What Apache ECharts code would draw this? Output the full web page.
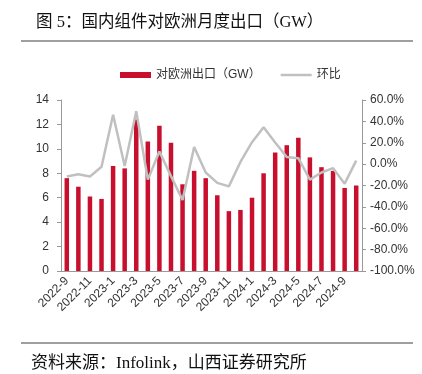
<!DOCTYPE html>
<html><head><meta charset="utf-8">
<script src="https://cdn.jsdelivr.net/npm/echarts@6/dist/echarts.min.js"></script>
<style>html,body{margin:0;padding:0;background:#fff}#c{width:422px;height:374px}</style>
</head><body><div id="c"></div>
<script>
var categories = ['2022-9','2022-10','2022-11','2022-12','2023-1','2023-2','2023-3','2023-4','2023-5','2023-6','2023-7','2023-8','2023-9','2023-10','2023-11','2023-12','2024-1','2024-2','2024-3','2024-4','2024-5','2024-6','2024-7','2024-8','2024-9','2024-10'];
var exportGW = [7.6,6.9,6.1,5.9,8.6,8.4,12.4,10.6,11.9,10.5,7.1,8.2,7.6,6.2,4.9,5.0,6.0,8.0,9.7,10.3,10.9,9.3,8.5,8.2,6.8,7.0];
var momPct = [-11.5,-9.4,-11.5,-2.5,46.2,-1.8,49.4,-14.5,11.9,-11.2,-33.5,16.0,-7.8,-17.5,-20.8,2.0,20.5,34.5,20.3,6.7,5.6,-14.5,-7.8,-3.8,-18.3,3.3];
var leftTicks = {min:0,max:14,interval:2};
var rightTicks = {min:-100,max:60,interval:20};

var chart = echarts.init(document.getElementById('c'));
var cjk = '"Liberation Serif","Noto Sans CJK SC",serif';
var sans = '"Liberation Sans","Noto Sans CJK SC",sans-serif';
chart.setOption({
  animation:false,
  title:{text:'图 5：国内组件对欧洲月度出口（GW）',left:31,top:9,textStyle:{fontFamily:cjk,fontSize:16.5,fontWeight:'normal',color:'#111'}},
  graphic:[
    {type:'line',shape:{x1:21,y1:41,x2:413,y2:41},style:{stroke:'#7f7f7f',lineWidth:1.5}},
    {type:'line',shape:{x1:21,y1:343,x2:413,y2:343},style:{stroke:'#7f7f7f',lineWidth:1.5}},
    {type:'text',left:31,top:355,style:{text:'资料来源：Infolink，山西证券研究所',font:'17px '+cjk,fill:'#111'}}
  ],
  legend:{left:115,top:64,itemGap:20,itemWidth:31,itemHeight:6,textStyle:{fontFamily:sans,fontSize:12,color:'#333'},
    data:[{name:'对欧洲出口（GW）',icon:'rect'},{name:'环比',icon:'path://M0,0H31V2.5H0Z'}]},
  grid:{left:61,right:60,top:100,bottom:103},
  xAxis:{type:'category',data:categories,
    axisLine:{lineStyle:{color:'#999'}},
    axisTick:{interval:0,length:4,lineStyle:{color:'#999'}},
    axisLabel:{interval:1,rotate:45,fontSize:12,fontFamily:sans,color:'#333',margin:8}},
  yAxis:[
    {type:'value',min:leftTicks.min,max:leftTicks.max,interval:leftTicks.interval,splitLine:{show:false},
      axisLine:{show:true,lineStyle:{color:'#999'}},axisTick:{show:true,length:4,lineStyle:{color:'#999'}},
      axisLabel:{fontSize:12,fontFamily:sans,color:'#333',margin:12}},
    {type:'value',min:rightTicks.min,max:rightTicks.max,interval:rightTicks.interval,splitLine:{show:false},
      axisLine:{show:true,lineStyle:{color:'#999'}},axisTick:{show:true,length:4,lineStyle:{color:'#999'}},
      axisLabel:{fontSize:12,fontFamily:sans,color:'#333',margin:8,formatter:function(v){return v.toFixed(1)+'%';}}}
  ],
  series:[
    {name:'对欧洲出口（GW）',type:'bar',data:exportGW,barWidth:4.5,itemStyle:{color:'#C8102E'}},
    {name:'环比',type:'line',yAxisIndex:1,data:momPct,symbol:'none',lineStyle:{color:'#c0c0c0',width:2.5},itemStyle:{color:'#c0c0c0'}}
  ]
});
</script></body></html>
